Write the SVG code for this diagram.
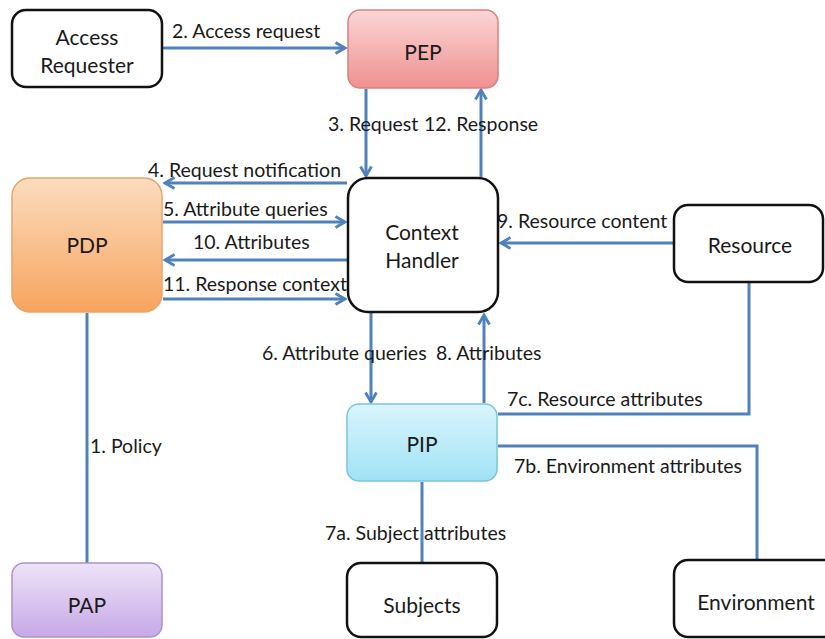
<svg xmlns="http://www.w3.org/2000/svg" width="825" height="639" viewBox="0 0 825 639">
<style>
.node{stroke-width:2.5}
.plain{fill:#ffffff;stroke:#111111}
.nl{font-family:Lato,"Liberation Sans",sans-serif;font-size:21px;fill:#1a1a1a;text-anchor:middle}
.cl{font-family:Lato,"Liberation Sans",sans-serif;font-size:19.5px;fill:#1a1a1a}
.c{fill:none;stroke:#4f81bd;stroke-width:3}
.a{marker-end:url(#arr)}
</style>
<defs>
<marker id="arr" markerUnits="userSpaceOnUse" markerWidth="16" markerHeight="16" refX="11" refY="7" orient="auto">
<path d="M1.5,1.5 L11,7 L1.5,12.5" fill="none" stroke="#4f81bd" stroke-width="2.8" stroke-linejoin="miter"/>
</marker>
<linearGradient id="gPEP" x1="0" y1="0" x2="0" y2="1"><stop offset="0" stop-color="#fad6d6"/><stop offset="1" stop-color="#f09090"/></linearGradient>
<linearGradient id="gPDP" x1="0" y1="0" x2="0" y2="1"><stop offset="0" stop-color="#fcdcbf"/><stop offset="1" stop-color="#f7a45f"/></linearGradient>
<linearGradient id="gPIP" x1="0" y1="0" x2="0" y2="1"><stop offset="0" stop-color="#daf5fc"/><stop offset="1" stop-color="#a0e2f6"/></linearGradient>
<linearGradient id="gPAP" x1="0" y1="0" x2="0" y2="1"><stop offset="0" stop-color="#eee3f8"/><stop offset="1" stop-color="#c6a9e6"/></linearGradient>
</defs>

<g id="connectors">
<line class="c a" x1="163" y1="48" x2="345" y2="48"/>
<line class="c a" x1="366" y1="89" x2="366" y2="176"/>
<line class="c a" x1="481" y1="177" x2="481" y2="90"/>
<line class="c a" x1="347" y1="183" x2="165" y2="183"/>
<line class="c a" x1="163" y1="222" x2="345" y2="222"/>
<line class="c a" x1="347" y1="260" x2="165" y2="260"/>
<line class="c a" x1="163" y1="299" x2="345" y2="299"/>
<line class="c a" x1="673" y1="243" x2="501" y2="243"/>
<line class="c a" x1="371" y1="313" x2="371" y2="402"/>
<line class="c a" x1="484" y1="403" x2="484" y2="315"/>
<polyline class="c" points="498,414 749,414 749,283"/>
<polyline class="c" points="498,446 757,446 757,560"/>
<line class="c" x1="422" y1="482" x2="422" y2="563"/>
<line class="c" x1="87" y1="313" x2="87" y2="563"/>
<text class="cl" x="172" y="38">2. Access request</text>
<text class="cl" x="328" y="131">3. Request</text>
<text class="cl" x="424" y="131">12. Response</text>
<text class="cl" x="148" y="177">4. Request notification</text>
<text class="cl" x="163" y="216">5. Attribute queries</text>
<text class="cl" x="193" y="249">10. Attributes</text>
<text class="cl" x="163" y="291">11. Response context</text>
<text class="cl" x="497" y="228">9. Resource content</text>
<text class="cl" x="262" y="360">6. Attribute queries</text>
<text class="cl" x="436" y="360">8. Attributes</text>
<text class="cl" x="507" y="406">7c. Resource attributes</text>
<text class="cl" x="514" y="473">7b. Environment attributes</text>
<text class="cl" x="325" y="540">7a. Subject attributes</text>
<text class="cl" x="90" y="453">1. Policy</text>
</g>

<g id="access-requester">
<rect class="node plain" x="12" y="10" width="150" height="77" rx="14"/>
<text class="nl" x="87" y="45">Access</text>
<text class="nl" x="87" y="73">Requester</text>
</g>
<g id="pep">
<rect x="348" y="10" width="150" height="78" rx="12" fill="url(#gPEP)" stroke="#d98080" stroke-width="1.5"/>
<text class="nl" x="423" y="60">PEP</text>
</g>
<g id="pdp">
<rect x="12" y="178" width="150" height="134" rx="18" fill="url(#gPDP)" stroke="#e8a56a" stroke-width="1.5"/>
<text class="nl" x="87" y="253">PDP</text>
</g>
<g id="context-handler">
<rect class="node plain" x="348" y="178" width="150" height="134" rx="20"/>
<text class="nl" x="422" y="240">Context</text>
<text class="nl" x="422" y="268">Handler</text>
</g>
<g id="resource">
<rect class="node plain" x="674" y="205" width="149" height="77" rx="14"/>
<text class="nl" x="750" y="253">Resource</text>
</g>
<g id="pip">
<rect x="347" y="404" width="150" height="77" rx="12" fill="url(#gPIP)" stroke="#78c6dc" stroke-width="1.5"/>
<text class="nl" x="422" y="452">PIP</text>
</g>
<g id="pap">
<rect x="12" y="563" width="150" height="74" rx="12" fill="url(#gPAP)" stroke="#ab93c9" stroke-width="1.5"/>
<text class="nl" x="87" y="613">PAP</text>
</g>
<g id="subjects">
<rect class="node plain" x="347" y="563" width="150" height="74" rx="14"/>
<text class="nl" x="422" y="613">Subjects</text>
</g>
<g id="environment">
<rect class="node plain" x="674" y="560" width="165" height="77" rx="14"/>
<text class="nl" x="756" y="610">Environment</text>
</g>
</svg>
